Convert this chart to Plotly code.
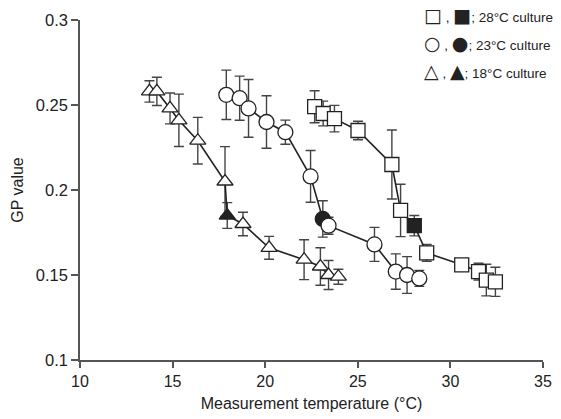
import plotly.graph_objects as go

# 28°C culture (squares)
t28 = [22.67, 23.13, 23.74, 25.01, 26.84, 27.31, 28.05, 28.72, 30.61, 31.52, 31.94, 32.43]
gp28 = [0.249, 0.245, 0.242, 0.235, 0.215, 0.188, 0.179, 0.163, 0.156, 0.152, 0.147, 0.146]
err28 = [0.0094, 0.0073, 0.0078, 0.0054, 0.0203, 0.0154, 0.006, 0.0049, 0.0, 0.0049, 0.0093, 0.0086]
fill28 = [0, 0, 0, 0, 0, 0, 1, 0, 0, 0, 0, 0]

# 23°C culture (circles)
t23 = [17.90, 18.62, 19.10, 20.07, 21.09, 22.45, 23.11, 23.42, 25.90, 27.05, 27.66, 28.32]
gp23 = [0.256, 0.254, 0.248, 0.240, 0.234, 0.208, 0.183, 0.179, 0.168, 0.152, 0.150, 0.148]
err23 = [0.0145, 0.013, 0.017, 0.0154, 0.0071, 0.0152, 0.0107, 0.005, 0.010, 0.0104, 0.0108, 0.0047]
fill23 = [0, 0, 0, 0, 0, 0, 1, 0, 0, 0, 0, 0]

# 18°C culture (triangles)
t18 = [13.75, 14.15, 14.86, 15.34, 16.36, 17.83, 17.95, 18.80, 20.21, 22.10, 22.98, 23.42, 23.95]
gp18 = [0.258, 0.258, 0.248, 0.241, 0.229, 0.205, 0.185, 0.180, 0.166, 0.159, 0.155, 0.150, 0.149]
err18 = [0.0063, 0.0083, 0.0091, 0.0154, 0.0137, 0.0205, 0.0076, 0.0069, 0.0067, 0.0117, 0.011, 0.0085, 0.0044]
fill18 = [0, 0, 0, 0, 0, 0, 1, 0, 0, 0, 0, 0, 0]

x_ticks = [10, 15, 20, 25, 30, 35]
y_ticks = [0.1, 0.15, 0.2, 0.25, 0.3]
y_tick_labels = ["0.1", "0.15", "0.2", "0.25", "0.3"]

legend_rows = [
    ("□", "■", "; 28°C culture"),
    ("○", "●", "; 23°C culture"),
    ("△", "▲", "; 18°C culture"),
]

FONT = "Liberation Sans, Arial, sans-serif"
INK = "#222222"

fig = go.Figure()

series = [
    (t18, gp18, err18, fill18, "triangle-up", 14),
    (t23, gp23, err23, fill23, "circle", 15),
    (t28, gp28, err28, fill28, "square", 14),
]

for xs, ys, es, fl, sym, sz in series:
    fig.add_trace(go.Scatter(
        x=xs, y=ys, mode="lines+markers",
        line=dict(color=INK, width=1.6),
        marker=dict(symbol=sym, size=sz,
                    color=[INK if f else "white" for f in fl],
                    line=dict(color=INK, width=1.3)),
        error_y=dict(type="data", array=es, visible=True,
                     color="#444444", thickness=1.4, width=5),
        showlegend=False, cliponaxis=False,
    ))

fig.update_xaxes(
    range=[10, 35], tickvals=x_ticks, showline=True, linecolor="#555555", linewidth=1.5,
    ticks="outside", ticklen=6, tickcolor="#555555", tickwidth=1.5,
    showgrid=False, zeroline=False, ticklabeloverflow="allow",
    tickfont=dict(family=FONT, size=16, color=INK),
    title=dict(text="Measurement temperature (°C)", font=dict(family=FONT, size=16, color=INK), standoff=9),
)
fig.update_yaxes(
    range=[0.1, 0.3], tickvals=y_ticks, ticktext=y_tick_labels,
    showline=True, linecolor="#555555", linewidth=1.5,
    ticks="outside", ticklen=7, tickcolor="#555555", tickwidth=1.5,
    showgrid=False, zeroline=False,
    tickfont=dict(family=FONT, size=16.5, color=INK),
    title=dict(text="GP value", font=dict(family=FONT, size=16, color=INK), standoff=8),
)

ys_px = [15, 43, 71]
sym_style = "font-family:DejaVu Sans;font-size:19px"
for (o, f, lab), yp in zip(legend_rows, ys_px):
    txt = (f"<span style='{sym_style}'>{o}</span> , "
           f"<span style='{sym_style}'>{f}</span>{lab}")
    fig.add_annotation(
        x=(429 - 80) / 472, xref="paper", y=1 - (yp - 20) / 341, yref="paper",
        xanchor="left", yanchor="middle", showarrow=False,
        text=txt, font=dict(family=FONT, size=13.5, color=INK),
    )

fig.update_layout(
    width=561, height=419,
    margin=dict(l=80, r=9, t=20, b=58),
    paper_bgcolor="white", plot_bgcolor="white",
)

fig.write_html("out.html")
